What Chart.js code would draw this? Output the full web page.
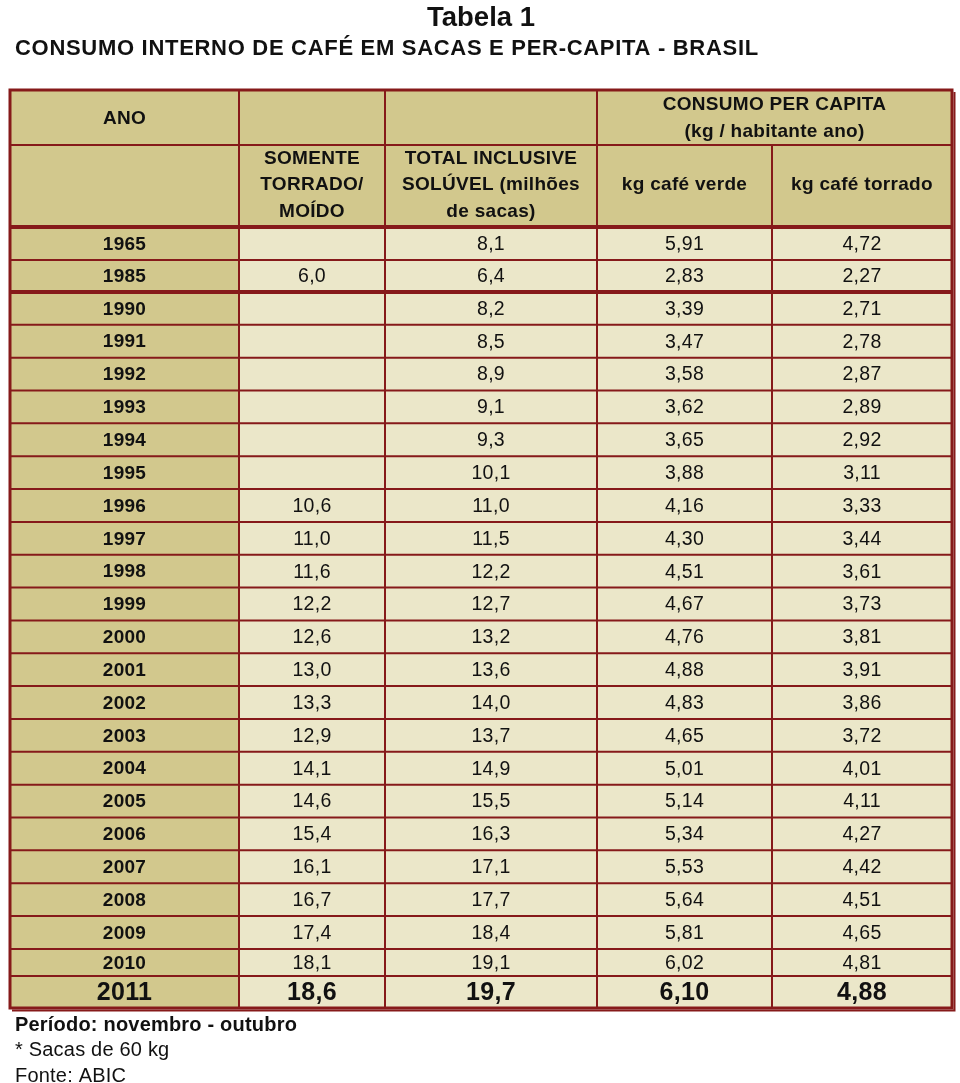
<!DOCTYPE html>
<html lang="pt-BR">
<head>
<meta charset="utf-8">
<title>Tabela 1 - Consumo interno de café</title>
<script src="https://cdn.jsdelivr.net/npm/chart.js@4.4.1/dist/chart.umd.min.js"></script>
<style>
  html, body { margin: 0; padding: 0; background: #ffffff; }
  canvas { display: block; }
</style>
</head>
<body>
<canvas id="tabela" width="960" height="1083"></canvas>
<script>
// dados da tabela (ABIC)
const years = ['1965', '1985', '1990', '1991', '1992', '1993', '1994', '1995', '1996', '1997', '1998', '1999',
  '2000', '2001', '2002', '2003', '2004', '2005', '2006', '2007', '2008', '2009', '2010', '2011'];
const torradoMoido = [null, 6.0, null, null, null, null, null, null, 10.6, 11.0, 11.6, 12.2,
  12.6, 13.0, 13.3, 12.9, 14.1, 14.6, 15.4, 16.1, 16.7, 17.4, 18.1, 18.6];
const totalSacas = [8.1, 6.4, 8.2, 8.5, 8.9, 9.1, 9.3, 10.1, 11.0, 11.5, 12.2, 12.7,
  13.2, 13.6, 14.0, 13.7, 14.9, 15.5, 16.3, 17.1, 17.7, 18.4, 19.1, 19.7];
const kgVerde = [5.91, 2.83, 3.39, 3.47, 3.58, 3.62, 3.65, 3.88, 4.16, 4.30, 4.51, 4.67,
  4.76, 4.88, 4.83, 4.65, 5.01, 5.14, 5.34, 5.53, 5.64, 5.81, 6.02, 6.10];
const kgTorrado = [4.72, 2.27, 2.71, 2.78, 2.87, 2.89, 2.92, 3.11, 3.33, 3.44, 3.61, 3.73,
  3.81, 3.91, 3.86, 3.72, 4.01, 4.11, 4.27, 4.42, 4.51, 4.65, 4.81, 4.88];

const headerTop = ['ANO', '', '', ['CONSUMO PER CAPITA', '(kg / habitante ano)']];
const headerSub = ['', ['SOMENTE', 'TORRADO/', 'MOÍDO'], ['TOTAL INCLUSIVE', 'SOLÚVEL (milhões', 'de sacas)'],
  ['kg café verde'], ['kg café torrado']];

const titleText = 'Tabela 1';
const subtitleText = 'CONSUMO INTERNO DE CAFÉ EM SACAS E PER-CAPITA - BRASIL';
const notes = ['Período: novembro - outubro', '* Sacas de 60 kg', 'Fonte: ABIC'];

// layout (unidades das escalas)
const colWidths = [229, 146, 212, 175, 180];
const headerHeights = [55, 82];
const rowHeights = years.map(y => {
  if (y === '1965') return 33;
  if (y === '1985') return 32;
  if (y === '2009') return 33;
  if (y === '2010') return 27;
  if (y === '2011') return 32;
  return 624 / 19;
});
const thickAfter = ['1985'];

const COLORS = {
  tan: '#d2c88d',
  light: '#ebe7c9',
  line: '#861a1a',
  text: '#111111'
};
const FONT = '"Liberation Sans", Arial, sans-serif';

function fmt(v, d) {
  if (v === null || v === undefined) return '';
  return v.toFixed(d).replace('.', ',');
}

function cumulative(arr) {
  const out = [0];
  arr.forEach(v => out.push(out[out.length - 1] + v));
  return out;
}

const colEdges = cumulative(colWidths);
const rowEdges = cumulative([...headerHeights, ...rowHeights]);
const totalW = colEdges[colEdges.length - 1];
const totalH = rowEdges[rowEdges.length - 1];

const tablePlugin = {
  id: 'tablePlugin',
  afterDraw(chart) {
    const ctx = chart.ctx;
    const xs = chart.scales.x;
    const ys = chart.scales.y;
    const X = v => xs.getPixelForValue(v);
    const Y = v => ys.getPixelForValue(v);
    const cx = c => X((colEdges[c] + colEdges[c + 1]) / 2);

    ctx.save();

    // fundos
    ctx.fillStyle = COLORS.tan;
    ctx.fillRect(X(0), Y(0), X(totalW) - X(0), Y(rowEdges[2]) - Y(0));
    for (let r = 0; r < years.length; r++) {
      const top = Y(rowEdges[r + 2]);
      const bot = Y(rowEdges[r + 3]);
      ctx.fillStyle = COLORS.tan;
      ctx.fillRect(X(colEdges[0]), top, X(colEdges[1]) - X(colEdges[0]), bot - top);
      ctx.fillStyle = COLORS.light;
      ctx.fillRect(X(colEdges[1]), top, X(totalW) - X(colEdges[1]), bot - top);
    }

    // linhas
    ctx.strokeStyle = COLORS.line;
    ctx.lineWidth = 2;
    for (let r = 1; r < rowEdges.length - 1; r++) {
      ctx.beginPath();
      ctx.moveTo(X(0), Y(rowEdges[r]));
      ctx.lineTo(X(totalW), Y(rowEdges[r]));
      ctx.stroke();
    }
    for (let c = 1; c < colEdges.length - 1; c++) {
      const startRow = c === 4 ? rowEdges[1] : 0;
      ctx.beginPath();
      ctx.moveTo(X(colEdges[c]), Y(startRow));
      ctx.lineTo(X(colEdges[c]), Y(totalH));
      ctx.stroke();
    }
    ctx.lineWidth = 4;
    const thickRows = [2, ...thickAfter.map(y => years.indexOf(y) + 3)];
    thickRows.forEach(r => {
      ctx.beginPath();
      ctx.moveTo(X(0), Y(rowEdges[r]));
      ctx.lineTo(X(totalW), Y(rowEdges[r]));
      ctx.stroke();
    });
    ctx.lineWidth = 3;
    ctx.strokeRect(X(0), Y(0), X(totalW) - X(0), Y(totalH) - Y(0));
    ctx.lineWidth = 2;
    ctx.beginPath();
    ctx.moveTo(X(totalW) + 2.5, Y(0) + 2);
    ctx.lineTo(X(totalW) + 2.5, Y(totalH) + 2.5);
    ctx.lineTo(X(0) + 2, Y(totalH) + 2.5);
    ctx.stroke();

    // cabeçalho
    ctx.fillStyle = COLORS.text;
    ctx.textAlign = 'center';
    ctx.textBaseline = 'middle';
    ctx.font = 'bold 19px ' + FONT;
    ctx.letterSpacing = '0.3px';
    const lineGap = 26.5;
    const drawLines = (lines, x, yMid) => {
      const list = Array.isArray(lines) ? lines : [lines];
      const start = yMid - (list.length - 1) * lineGap / 2;
      list.forEach((t, i) => ctx.fillText(t, x, start + i * lineGap));
    };
    const h1Mid = Y((rowEdges[0] + rowEdges[1]) / 2) + 1;
    const h2Mid = Y((rowEdges[1] + rowEdges[2]) / 2) - 1;
    drawLines(headerTop[0], cx(0), h1Mid);
    drawLines(headerTop[3], X((colEdges[3] + colEdges[5]) / 2), h1Mid);
    headerSub.forEach((lines, c) => { if (lines) drawLines(lines, cx(c), h2Mid); });

    // corpo
    const cols = [torradoMoido, totalSacas, kgVerde, kgTorrado];
    const decimals = [1, 1, 2, 2];
    years.forEach((year, r) => {
      const mid = Y((rowEdges[r + 2] + rowEdges[r + 3]) / 2) + 1;
      const last = r === years.length - 1;
      ctx.font = (last ? 'bold 25px ' : 'bold 19px ') + FONT;
      ctx.fillText(year, cx(0), mid);
      ctx.font = (last ? 'bold 25px ' : '19.5px ') + FONT;
      cols.forEach((arr, c) => ctx.fillText(fmt(arr[r], decimals[c]), cx(c + 1), mid));
    });

    // título e notas
    ctx.letterSpacing = '0px';
    ctx.font = 'bold 27.5px ' + FONT;
    ctx.textBaseline = 'alphabetic';
    ctx.fillText(titleText, 481, 26);
    ctx.textAlign = 'left';
    ctx.font = 'bold 22px ' + FONT;
    ctx.letterSpacing = '0.7px';
    ctx.fillText(subtitleText, 15, 55);

    const bottom = Y(totalH);
    ctx.letterSpacing = '0.2px';
    ctx.font = 'bold 20px ' + FONT;
    ctx.fillText(notes[0], 15, bottom + 23);
    ctx.font = '20px ' + FONT;
    ctx.fillText(notes[1], 15, bottom + 48);
    ctx.fillText(notes[2], 15, bottom + 74);

    ctx.restore();
  }
};

new Chart(document.getElementById('tabela'), {
  type: 'scatter',
  data: { datasets: [{ data: [], pointRadius: 0 }] },
  options: {
    responsive: false,
    devicePixelRatio: 1,
    animation: false,
    layout: { padding: { left: 10, right: 8, top: 90, bottom: 75 } },
    plugins: { legend: { display: false }, tooltip: { enabled: false }, title: { display: false } },
    scales: {
      x: { type: 'linear', min: 0, max: totalW, display: false },
      y: { type: 'linear', min: 0, max: totalH, reverse: true, display: false }
    }
  },
  plugins: [tablePlugin]
});
</script>
</body>
</html>
